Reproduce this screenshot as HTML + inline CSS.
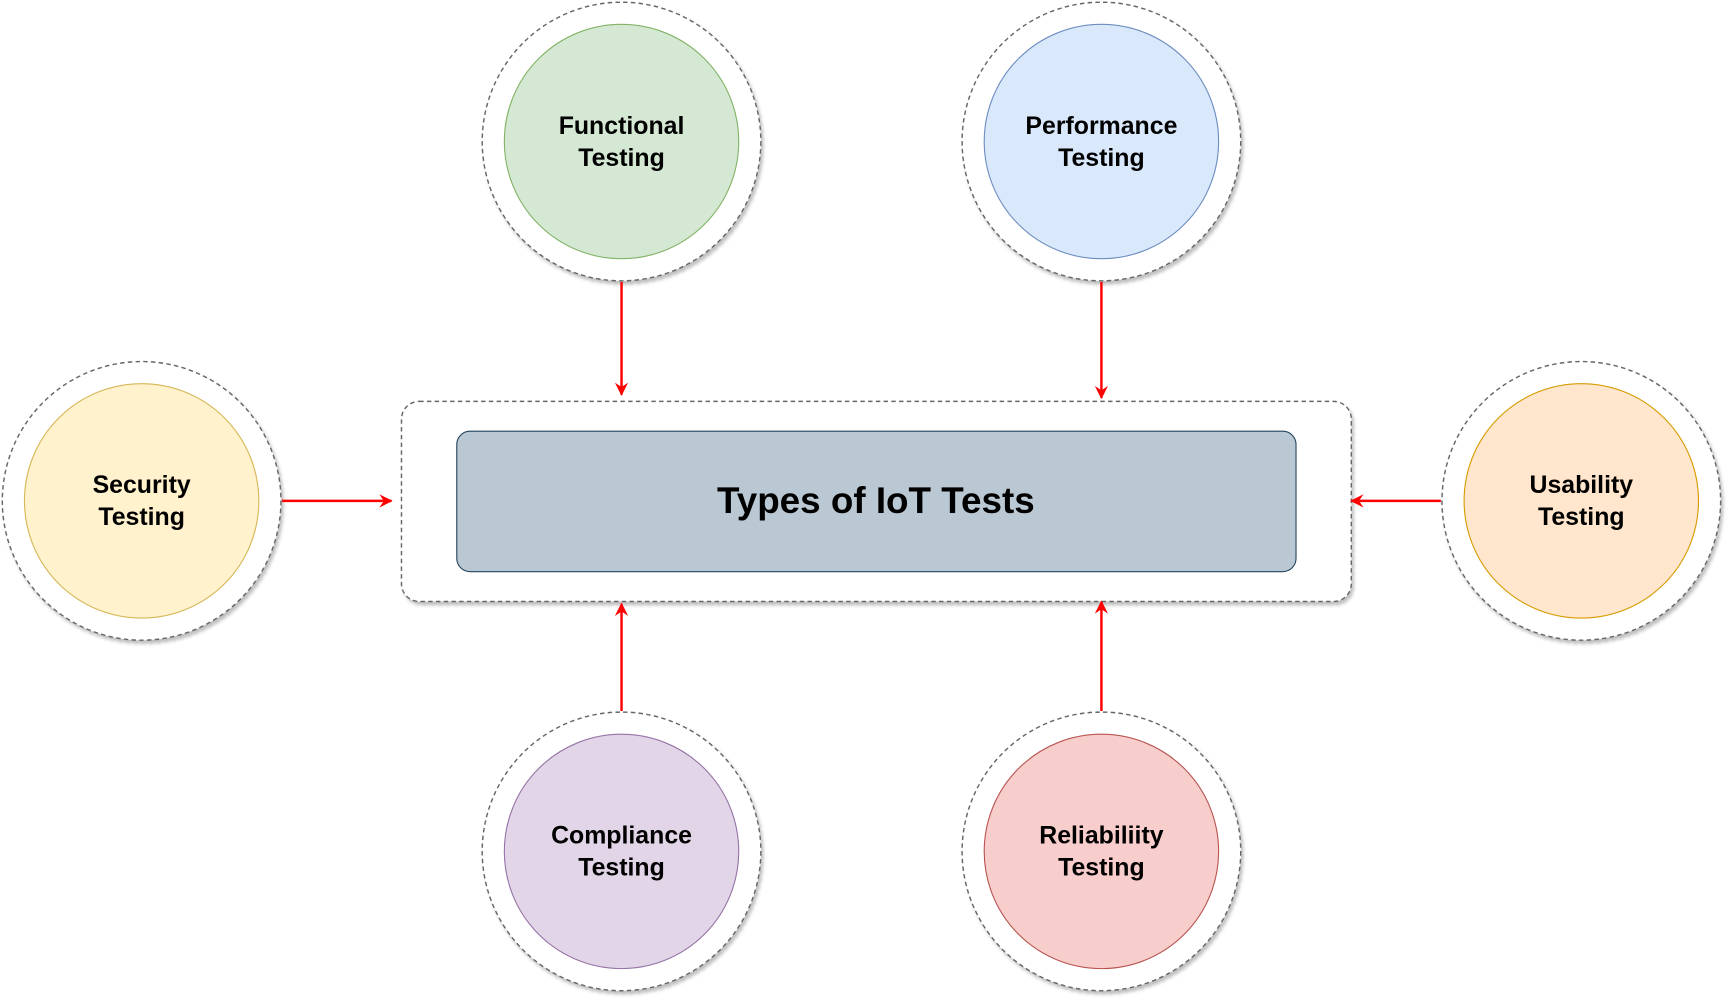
<!DOCTYPE html>
<html><head><meta charset="utf-8"><style>html,body{margin:0;padding:0;background:#fff}svg{display:block}</style></head>
<body>
<svg width="1734" height="1004" viewBox="0 0 1568 908" xmlns="http://www.w3.org/2000/svg" font-family="Liberation Sans, sans-serif" font-weight="bold">
<defs>
<filter id="sh" x="-20%" y="-20%" width="140%" height="140%"><feDropShadow dx="2" dy="3" stdDeviation="1.5" flood-color="#000" flood-opacity="0.25"/></filter>
<marker id="ah" markerWidth="14" markerHeight="14" refX="11" refY="6" orient="auto" markerUnits="userSpaceOnUse"><path d="M0,0 L12,6 L0,12 L4,6 Z" fill="#ff0000"/></marker>
</defs>
<g fill="#fff" stroke="#666" stroke-width="1.3" stroke-dasharray="4,3" filter="url(#sh)">
<circle cx="562" cy="128" r="126"/>
<circle cx="996" cy="128" r="126"/>
<circle cx="128" cy="453" r="126"/>
<circle cx="1430" cy="453" r="126"/>
<circle cx="562" cy="770" r="126"/>
<circle cx="996" cy="770" r="126"/>
<rect x="363" y="363" width="859" height="181" rx="16"/>
</g>
<circle cx="562" cy="128" r="106" fill="#d5e8d4" stroke="#82b366"/>
<circle cx="996" cy="128" r="106" fill="#dae8fc" stroke="#6c8ebf"/>
<circle cx="128" cy="453" r="106" fill="#fff2cc" stroke="#d6b656"/>
<circle cx="1430" cy="453" r="106" fill="#ffe6cc" stroke="#d79b00"/>
<circle cx="562" cy="770" r="106" fill="#e1d5e7" stroke="#9673a6"/>
<circle cx="996" cy="770" r="106" fill="#f8cecc" stroke="#b85450"/>
<rect x="413" y="390" width="759" height="127" rx="12" fill="#bac8d3" stroke="#23445d"/>
<g stroke="#ff0000" stroke-width="2.2" fill="none" marker-end="url(#ah)">
<line x1="562" y1="255" x2="562" y2="357"/>
<line x1="996" y1="255" x2="996" y2="360"/>
<line x1="255" y1="453" x2="354" y2="453"/>
<line x1="1303" y1="453" x2="1222" y2="453"/>
<line x1="562" y1="643" x2="562" y2="546"/>
<line x1="996" y1="643" x2="996" y2="544"/>
</g>
<g font-size="22.5" text-anchor="middle" fill="#000">
<text x="562" y="121">Functional</text><text x="562" y="150">Testing</text>
<text x="996" y="121">Performance</text><text x="996" y="150">Testing</text>
<text x="128" y="446">Security</text><text x="128" y="475">Testing</text>
<text x="1430" y="446">Usability</text><text x="1430" y="475">Testing</text>
<text x="562" y="763">Compliance</text><text x="562" y="792">Testing</text>
<text x="996" y="763">Reliabiliity</text><text x="996" y="792">Testing</text>
<text x="792" y="464" font-size="33.3">Types of IoT Tests</text>
</g>
</svg>
</body></html>
